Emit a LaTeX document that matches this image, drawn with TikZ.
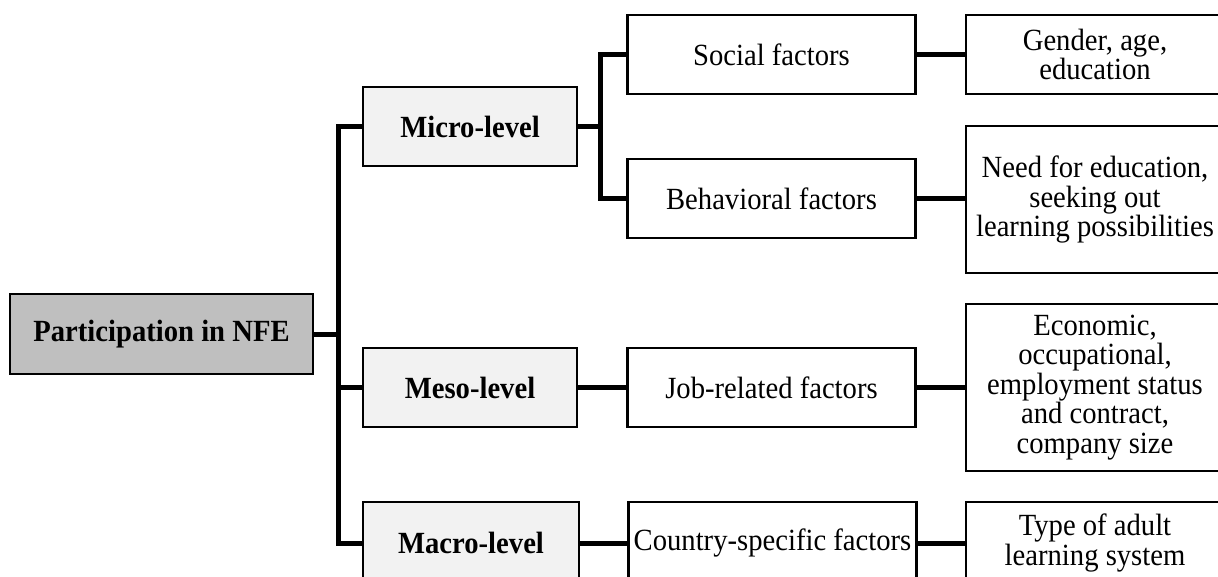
\documentclass[tikz,border=0pt]{standalone}
\usepackage{fontspec}
\setmainfont{Liberation Serif}[FakeStretch=0.93]
\usetikzlibrary{calc}
\definecolor{rootgray}{RGB}{191,191,191}
\definecolor{levelgray}{RGB}{242,242,242}
\newcommand{\boxfont}{\fontsize{30.8}{29.4}\selectfont}
\tikzset{
  box/.style={draw=black, line width=2.6pt, inner sep=1pt, align=center,
    font=\boxfont},
  rootbox/.style={box, fill=rootgray, minimum width=303pt, minimum height=80pt, font=\boxfont\bfseries},
  levelbox/.style={box, fill=levelgray, minimum height=79pt, font=\boxfont\bfseries},
  factorbox/.style={box, fill=white, minimum width=288pt, minimum height=79pt},
  detailbox/.style={box, fill=white, minimum width=258pt},
  conn/.style={draw=black, line width=5pt, line join=miter}
}
\begin{document}
\begin{tikzpicture}[x=1pt,y=-1pt]
\useasboundingbox (0,0) rectangle (1218,576);
\clip (0,0) rectangle (1218,576);
\fill[white] (0,0) rectangle (1218,576);

\coordinate (trunk) at (338,334);
\coordinate (branch) at (600,126.5);

\node[rootbox] (root) at (161.5,334) {Participation in NFE};

\node[levelbox, minimum width=214pt] (micro) at (470,126.5) {Micro-level};
\node[levelbox, minimum width=214pt] (meso) at (470,387.5) {Meso-level};
\node[levelbox, minimum width=216pt, minimum height=82pt] (macro) at (471,543) {Macro-level};

\node[factorbox] (social) at (771.5,54.5) {Social factors};
\node[factorbox] (behav) at (771.5,198.5) {Behavioral factors};
\node[factorbox] (job) at (771.5,387.5) {Job-related factors};
\node[factorbox, minimum height=82pt] (country) at (772.5,543) {Country-specific factors};

\node[detailbox, minimum height=79pt] (gender) at (1095,54.5) {Gender, age,\\education};
\node[detailbox, minimum height=147pt] (need) at (1095,199.5) {Need for education,\\seeking out\\learning possibilities};
\node[detailbox, minimum height=167pt] (econ) at (1095,387.5) {Economic,\\occupational,\\employment status\\and contract,\\company size};
\node[detailbox, minimum height=82pt] (type) at (1095,543) {Type of adult\\learning system};

% trunk
\draw[conn] (root.east) -- (trunk);
\draw[conn] (micro.west) -| (trunk) |- (macro.west);
\draw[conn] (meso.west) -- (meso.west -| trunk);

% micro branch
\draw[conn] (micro.east) -- (branch);
\draw[conn] (social.west) -| (branch) |- (behav.west);

% factor to detail
\draw[conn] (social.east) -- (gender.west);
\draw[conn] (behav.east) -- (behav.east -| need.west);
\draw[conn] (meso.east) -- (job.west);
\draw[conn] (job.east) -- (econ.west);
\draw[conn] (macro.east) -- (country.west);
\draw[conn] (country.east) -- (type.west);
\end{tikzpicture}
\end{document}
